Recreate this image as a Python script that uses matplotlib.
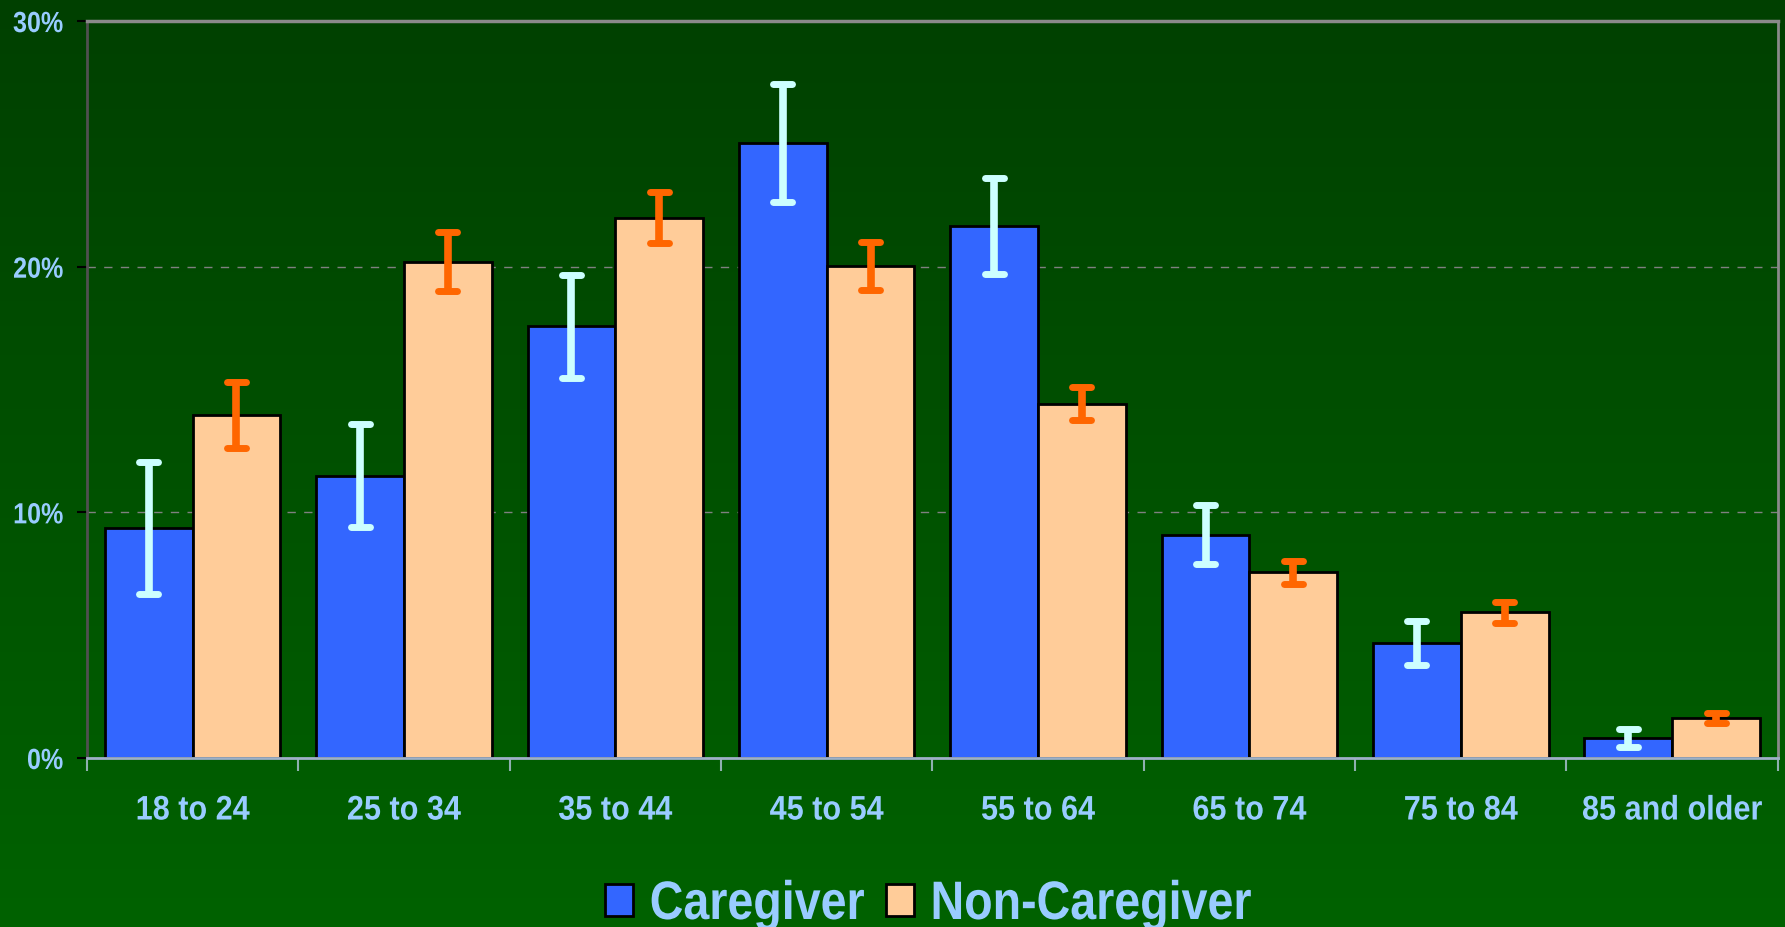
import numpy as np
import matplotlib
matplotlib.use("Agg")
import matplotlib.pyplot as plt
from matplotlib.patches import Patch
from matplotlib.patheffects import AbstractPathEffect
from matplotlib.transforms import Affine2D
from matplotlib.textpath import TextPath
from matplotlib.font_manager import FontProperties

# ---- data ----
categories = ["18 to 24", "25 to 34", "35 to 44", "45 to 54",
              "55 to 64", "65 to 74", "75 to 84", "85 and older"]
caregiver = [9.37, 11.5, 17.57, 25.03, 21.65, 9.09, 4.68, 0.83]
caregiver_err = [2.7, 2.1, 2.1, 2.4, 1.95, 1.2, 0.9, 0.37]
noncaregiver = [13.95, 20.2, 22.0, 20.03, 14.42, 7.56, 5.93, 1.62]
noncaregiver_err = [1.35, 1.2, 1.05, 0.98, 0.68, 0.47, 0.44, 0.2]
series_names = ["Caregiver", "Non-Caregiver"]
yticks = [0, 10, 20, 30]
ytick_labels = ["0%", "10%", "20%", "30%"]

family = "Liberation Sans"
plt.rcParams["font.family"] = [family, "DejaVu Sans"]
txt_col = "#99ccff"


class HSqueeze(AbstractPathEffect):
    """Draw text narrower (condensed look) about an anchor."""
    def __init__(self, s, anchor="center"):
        super().__init__()
        self.s = s
        self.anchor = anchor

    def draw_path(self, renderer, gc, tpath, affine, rgbFace=None):
        ext = affine.transform_path(tpath).get_extents()
        if self.anchor == "right":
            cx = ext.x1
        elif self.anchor == "left":
            cx = ext.x0
        else:
            cx = 0.5 * (ext.x0 + ext.x1)
        new = affine + Affine2D().translate(-cx, 0).scale(self.s, 1).translate(cx, 0)
        renderer.draw_path(gc, tpath, new, rgbFace)


fig = plt.figure(figsize=(17.85, 9.27), dpi=100)

# background gradient
bg = fig.add_axes([0, 0, 1, 1], zorder=-10)
grad = np.linspace(0, 1, 256).reshape(-1, 1)
top = np.array([0x00, 0x40, 0x00]) / 255
bot = np.array([0x00, 0x62, 0x00]) / 255
img = top[None, None, :] * (1 - grad[:, :, None]) + bot[None, None, :] * grad[:, :, None]
bg.imshow(img, aspect="auto", extent=[0, 1, 0, 1])
bg.set_axis_off()

ax = fig.add_axes([0.0487, 0.1823, 0.9473, 0.795])
ax.set_facecolor("none")

x = np.arange(len(categories))
w = 0.415
c_blue = "#3366ff"
c_peach = "#ffcc99"
ax.bar(x - w / 2, caregiver, width=w, color=c_blue, edgecolor="black", linewidth=2, zorder=3)
ax.bar(x + w / 2, noncaregiver, width=w, color=c_peach, edgecolor="black", linewidth=2, zorder=3)

cg = np.array(caregiver); cge = np.array(caregiver_err)
ncg = np.array(noncaregiver); ncge = np.array(noncaregiver_err)
capw = 0.045
for xs, v, e, col in [(x - w / 2, cg, cge, "#ccffff"), (x + w / 2, ncg, ncge, "#ff6600")]:
    ax.vlines(xs, v - e, v + e, colors=col, linewidth=5.5, zorder=4, capstyle="butt")
    ax.hlines(v + e, xs - capw, xs + capw, colors=col, linewidth=5, zorder=5, capstyle="round")
    ax.hlines(v - e, xs - capw, xs + capw, colors=col, linewidth=5, zorder=5, capstyle="round")

ax.set_xlim(-0.5, len(categories) - 0.5)
ax.set_ylim(0, 30)

for yv in [10, 20]:
    ax.axhline(yv, color="#808080", linewidth=1, linestyle=(0, (6, 6)), zorder=1)

ax.spines["top"].set_color("#8a8a8a"); ax.spines["top"].set_linewidth(2.5)
ax.spines["right"].set_color("#8a8a8a"); ax.spines["right"].set_linewidth(2)
ax.spines["left"].set_color("#505050"); ax.spines["left"].set_linewidth(2)
ax.spines["bottom"].set_color("#9fb0c8"); ax.spines["bottom"].set_linewidth(2)
ax.spines["bottom"].set_zorder(6)

ax.set_yticks(yticks)
ax.set_yticklabels(ytick_labels)
ax.tick_params(axis="y", direction="out", length=7, width=1.5, color="black",
               labelcolor=txt_col, labelsize=21, pad=10)
for t in ax.get_yticklabels():
    t.set_fontweight("bold")
    t.set_path_effects([HSqueeze(0.86, "right")])

ax.set_xticks(x)
ax.set_xticklabels(categories)
ax.set_xticks(np.arange(-0.5, len(categories)), minor=True)
ax.tick_params(axis="x", which="major", length=0, labelcolor=txt_col, labelsize=24.5, pad=27)
ax.tick_params(axis="x", which="minor", direction="out", length=9, width=1.5, color="#8fb0b0")
for t in ax.get_xticklabels():
    t.set_fontweight("bold")
    t.set_path_effects([HSqueeze(0.9, "center")])

# legend
leg_size = 39
leg_s = 0.86
fp = FontProperties(family=family, weight="bold", size=leg_size)
w1 = TextPath((0, 0), series_names[0], prop=fp).get_extents().width  # points
gap_px = 21
colsp = (gap_px * 72 / 100) / leg_size - (1 - leg_s) * w1 / leg_size
handles = [Patch(facecolor=c_blue, edgecolor="black", linewidth=2),
           Patch(facecolor=c_peach, edgecolor="black", linewidth=2)]
leg = fig.legend(handles, series_names, loc="center left", ncol=2,
                 bbox_to_anchor=(605 / 1785, 1 - 905 / 927), frameon=False,
                 prop=fp, handlelength=0.52, handleheight=0.55, handletextpad=0.3,
                 columnspacing=colsp, borderpad=0, borderaxespad=0)
for t in leg.get_texts():
    t.set_color(txt_col)
    t.set_path_effects([HSqueeze(leg_s, "left")])

fig.savefig("out.png", dpi=100)
